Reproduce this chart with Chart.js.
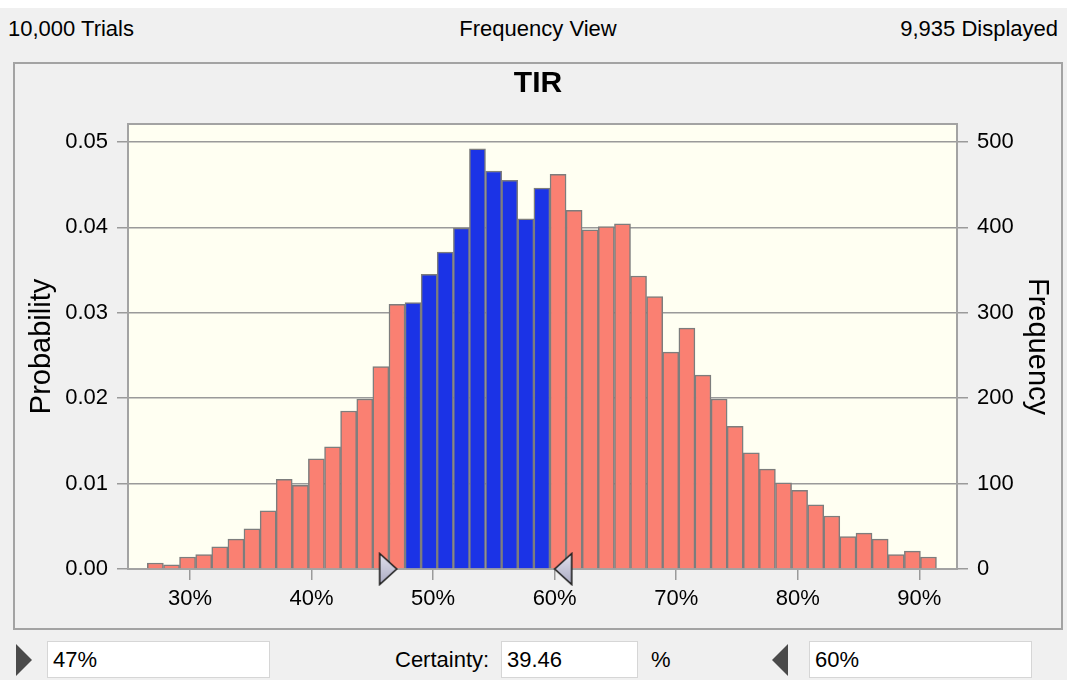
<!DOCTYPE html>
<html><head><meta charset="utf-8">
<script src="https://cdn.jsdelivr.net/npm/chart.js@4/dist/chart.umd.min.js"></script>
<style>
html,body{margin:0;padding:0;}
body{width:1067px;height:680px;background:#f0f0f0;position:relative;overflow:hidden;font-family:"Liberation Sans",Arial,sans-serif;color:#000;}
.topstrip{position:absolute;left:0;top:0;width:1067px;height:8px;background:#fff;}
.t{position:absolute;font-size:22px;line-height:26px;white-space:nowrap;}
#panel{position:absolute;left:13px;top:62px;width:1050px;height:568px;border:2px solid #a3a3a3;box-sizing:border-box;}
#chart{position:absolute;left:0;top:0;}
.box{position:absolute;top:641px;height:37px;background:#fff;border:1px solid #d6d6d6;box-sizing:border-box;font-size:22px;line-height:35px;padding-left:5px;}
.tri-r{position:absolute;width:0;height:0;border-top:16px solid transparent;border-bottom:16px solid transparent;border-left:16px solid #4a4a4a;}
.tri-l{position:absolute;width:0;height:0;border-top:16px solid transparent;border-bottom:16px solid transparent;border-right:16px solid #4a4a4a;}
</style>
</head><body>
<div class="topstrip"></div>
<div class="t" style="left:8px;top:16px;">10,000 Trials</div>
<div class="t" style="left:338px;width:400px;text-align:center;top:16px;">Frequency View</div>
<div class="t" style="right:9px;top:16px;">9,935 Displayed</div>
<div id="panel"><canvas id="chart" width="1046" height="564"></canvas></div>
<div class="tri-r" style="left:16px;top:644px;"></div>
<div class="box" style="left:47px;width:223px;">47%</div>
<div class="t" style="left:395px;top:647px;">Certainty:</div>
<div class="box" style="left:501px;width:137px;">39.46</div>
<div class="t" style="left:651px;top:647px;">%</div>
<div class="tri-l" style="left:772px;top:644px;"></div>
<div class="box" style="left:809px;width:223px;">60%</div>
<script>
// ---- data ----
const binCenters = [27.15, 28.48, 29.80, 31.13, 32.45, 33.78, 35.10, 36.43, 37.75, 39.08,
  40.40, 41.73, 43.05, 44.38, 45.70, 47.03, 48.35, 49.68, 51.00, 52.33,
  53.65, 54.98, 56.30, 57.63, 58.95, 60.28, 61.60, 62.93, 64.25, 65.58,
  66.90, 68.23, 69.55, 70.88, 72.20, 73.53, 74.85, 76.18, 77.50, 78.83,
  80.15, 81.48, 82.80, 84.13, 85.45, 86.78, 88.10, 89.43, 90.75];
const frequency = [7, 5, 14, 17, 26, 35, 47, 68, 105, 98,
  129, 143, 185, 199, 237, 310, 312, 345, 371, 399,
  492, 466, 455, 410, 446, 462, 420, 397, 401, 404,
  343, 319, 254, 282, 227, 199, 167, 136, 117, 101,
  92, 75, 62, 38, 42, 35, 17, 21, 14];
const binWidth = 1.325;
const certaintyLow = 47;
const certaintyHigh = 60;
const xTickValues = [30, 40, 50, 60, 70, 80, 90];
const probTickValues = [0, 0.01, 0.02, 0.03, 0.04, 0.05];
const freqTickValues = [0, 100, 200, 300, 400, 500];
const xMin = 24.9, xMax = 93.1;
const freqMax = 521;
const trialsScale = 10000;

// ---- styles ----
const FONT = '"Liberation Sans", Arial, sans-serif';
const SALMON = '#fa8072';
const BLUE = '#1b33e6';
const GRIDC = '#9a9a9a';

const barColors = binCenters.map(c =>
  (c - binWidth / 2 >= certaintyLow && c + binWidth / 2 <= certaintyHigh) ? BLUE : SALMON);

function makeHandle(dir) {
  const c = document.createElement('canvas');
  c.width = 38; c.height = 34;
  const g = c.getContext('2d');
  const grad = g.createLinearGradient(0, 0, 0, 34);
  grad.addColorStop(0, '#e4e4f0');
  grad.addColorStop(1, '#a8a8c0');
  g.beginPath();
  if (dir > 0) { g.moveTo(2, 1.5); g.lineTo(19, 17); g.lineTo(2, 32.5); }
  else { g.moveTo(36, 1.5); g.lineTo(19, 17); g.lineTo(36, 32.5); }
  g.closePath();
  g.fillStyle = grad; g.fill();
  g.lineWidth = 1.6; g.strokeStyle = '#1e1e1e'; g.stroke();
  return c;
}
const handles = [makeHandle(1), makeHandle(-1)];

const framePlugin = {
  id: 'frame',
  beforeDraw(chart) {
    const a = chart.chartArea, ctx = chart.ctx;
    ctx.save(); ctx.fillStyle = '#fffff2';
    ctx.fillRect(a.left, a.top, a.right - a.left, a.bottom - a.top);
    ctx.restore();
  },
  beforeDatasetsDraw(chart) {
    const a = chart.chartArea, ctx = chart.ctx;
    ctx.save(); ctx.strokeStyle = '#a3a3a3'; ctx.lineWidth = 2;
    ctx.strokeRect(a.left, a.top, a.right - a.left, a.bottom - a.top);
    ctx.restore();
  }
};

const tickFont = { family: FONT, size: 22 };
const titleFont = { family: FONT, size: 29 };

new Chart(document.getElementById('chart'), {
  type: 'bar',
  data: {
    datasets: [
      {
        type: 'scatter',
        data: [{ x: certaintyLow, y: 0 }, { x: certaintyHigh, y: 0 }],
        pointStyle: handles, radius: 12, clip: false, order: 0,
        xAxisID: 'x', yAxisID: 'yFreq'
      },
      {
        type: 'bar',
        data: binCenters.map((c, i) => ({ x: c, y: frequency[i] })),
        backgroundColor: barColors, borderColor: '#7d7d7d', borderWidth: 1.5,
        barPercentage: 1, categoryPercentage: 1, order: 1,
        xAxisID: 'x', yAxisID: 'yFreq'
      }
    ]
  },
  options: {
    responsive: false, devicePixelRatio: 1, animation: false,
    layout: { padding: 0 },
    plugins: {
      legend: { display: false }, tooltip: { enabled: false },
      title: { display: true, text: 'TIR', color: '#000',
        font: { family: FONT, size: 30, weight: 'bold' }, padding: { top: 2, bottom: 22 } }
    },
    scales: {
      x: {
        type: 'linear', position: 'bottom', min: xMin, max: xMax, offset: false,
        afterBuildTicks: s => { s.ticks = xTickValues.map(v => ({ value: v })); },
        afterFit: s => { s.height = 59; },
        grid: { offset: false, drawOnChartArea: false, drawTicks: true, tickLength: 11, color: GRIDC, lineWidth: 1.5 },
        border: { display: false },
        ticks: { callback: v => v + '%', font: tickFont, color: '#000', padding: 6, maxRotation: 0, autoSkip: false }
      },
      yProb: {
        type: 'linear', position: 'left', min: 0, max: freqMax / trialsScale,
        afterBuildTicks: s => { s.ticks = probTickValues.map(v => ({ value: v })); },
        afterFit: s => { s.width = 113; },
        grid: { drawOnChartArea: true, drawTicks: true, tickLength: 11, color: GRIDC, lineWidth: 1.5 },
        border: { display: false },
        ticks: { callback: v => v.toFixed(2), font: tickFont, color: '#000', padding: 9 },
        title: { display: true, text: 'Probability', font: titleFont, color: '#000', padding: { top: 10, bottom: 0 } }
      },
      yFreq: {
        type: 'linear', position: 'right', min: 0, max: freqMax,
        afterBuildTicks: s => { s.ticks = freqTickValues.map(v => ({ value: v })); },
        afterFit: s => { s.width = 104; },
        grid: { drawOnChartArea: false, drawTicks: true, tickLength: 11, color: GRIDC, lineWidth: 1.5 },
        border: { display: false },
        ticks: { callback: v => String(v), font: tickFont, color: '#000', padding: 9 },
        title: { display: true, text: 'Frequency', font: titleFont, color: '#000', padding: { top: 7, bottom: 0 } }
      }
    }
  },
  plugins: [framePlugin]
});
</script>
</body></html>
